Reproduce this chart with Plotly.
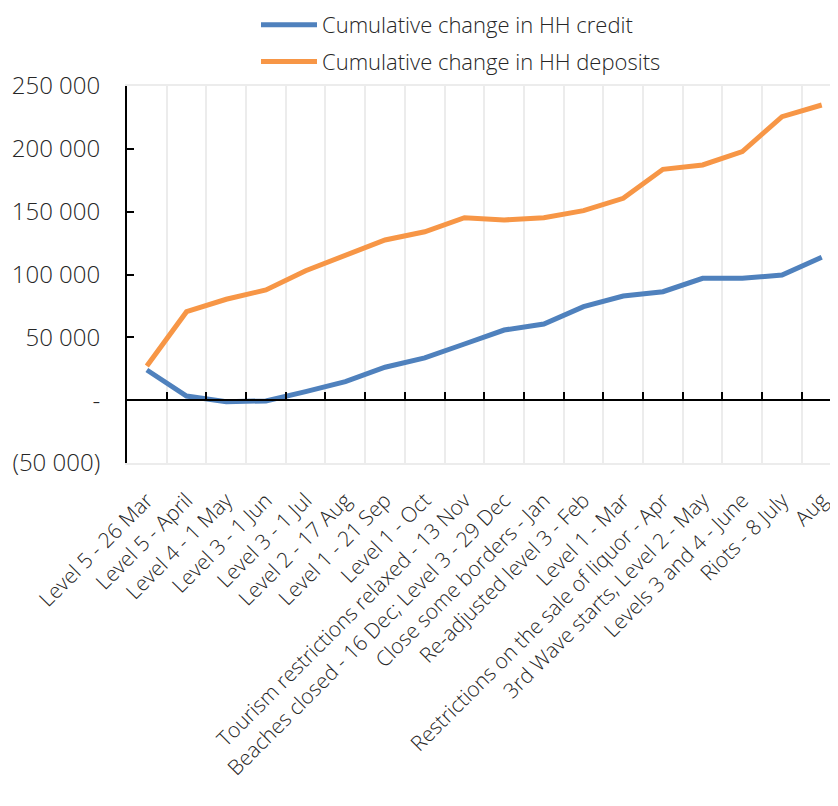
import plotly.graph_objects as go

categories = [
    "Level 5 - 26 Mar", "Level 5 - April", "Level 4 - 1 May", "Level 3 - 1 Jun",
    "Level 3 - 1 Jul", "Level 2 - 17 Aug", "Level 1 - 21 Sep", "Level 1 - Oct",
    "Tourism restrictions relaxed - 13 Nov", "Beaches closed - 16 Dec; Level 3 - 29 Dec",
    "Close some borders - Jan", "Re-adjusted level 3 - Feb", "Level 1 - Mar",
    "Restrictions on the sale of liquor - Apr", "3rd Wave starts, Level 2 - May",
    "Levels 3 and 4 - June", "Riots - 8 July", "Aug",
]
hh_credit = [24000, 3300, -1200, -600, 6800, 14700, 26200, 33600, 44700, 55800,
             60600, 74400, 82900, 86300, 97000, 97000, 99600, 113700]
hh_deposits = [27200, 70400, 80300, 87700, 103000, 115500, 127500, 134000, 145200, 143400,
               145200, 150800, 160600, 183700, 187200, 197800, 225600, 234900]
y_tickvals = [-50000, 0, 50000, 100000, 150000, 200000, 250000]
y_ticktext = ["(50 000)", "-", "50 000", "100 000", "150 000", "200 000", "250 000"]

FONT = "Open Sans"
TXT = "#262626"

fig = go.Figure()
fig.add_trace(go.Scatter(x=categories, y=hh_credit, mode="lines",
                         name="Cumulative change in HH credit",
                         line=dict(color="#4f81bd", width=5), legendgroup="a"))
fig.add_trace(go.Scatter(x=categories, y=hh_deposits, mode="lines",
                         name="Cumulative change in HH deposits",
                         line=dict(color="#f79646", width=5), legendgroup="b"))
# invisible helper trace for the zero-line axis
fig.add_trace(go.Scatter(x=categories, y=hh_credit, mode="lines", xaxis="x2",
                         line=dict(color="rgba(0,0,0,0)", width=0),
                         showlegend=False, hoverinfo="skip"))

# page has an 8px body margin, so the figure is offset by 8px
W, H = 830, 798
L, T, B = 119, 78, 343
plot_w = W - L
plot_h = H - T - B

xr = [-0.5, 17.41]
fig.update_layout(
    width=W, height=H,
    margin=dict(l=L, r=0, t=T, b=B, autoexpand=False),
    paper_bgcolor="white", plot_bgcolor="white",
    font=dict(family=FONT, size=22, color=TXT, weight=300),
    showlegend=True,
    legend=dict(x=(256 - 8 - L) / plot_w, y=1 + 82 / plot_h,
                xanchor="left", yanchor="top", orientation="v",
                traceorder="grouped", tracegroupgap=5, itemwidth=56,
                font=dict(family=FONT, size=22, color=TXT, weight=300),
                bgcolor="rgba(0,0,0,0)"),
    xaxis=dict(type="category", range=xr, tickson="boundaries",
               showgrid=True, gridcolor="#ececec", gridwidth=1.5,
               showline=True, linecolor="#ececec", linewidth=1.5, mirror=True,
               ticks="", tickangle=-45, automargin=False,
               ticklabelstandoff=15,
               tickfont=dict(family=FONT, size=21, color=TXT, weight=300)),
    xaxis2=dict(type="category", range=xr, overlaying="x", anchor="free",
                position=1/6, side="bottom", tickson="boundaries",
                showline=True, linecolor="black", linewidth=2,
                ticks="inside", ticklen=7, tickwidth=2, tickcolor="black",
                showticklabels=False, showgrid=False, zeroline=False,
                automargin=False),
    yaxis=dict(range=[-50000, 250000], tickvals=y_tickvals, ticktext=y_ticktext,
               showgrid=False, zeroline=False, automargin=False,
               showline=True, linecolor="black", linewidth=2,
               ticks="inside", ticklen=7, tickwidth=2, tickcolor="black",
               ticklabelstandoff=20,
               tickfont=dict(family=FONT, size=24, color=TXT, weight=300)),
)

fig.write_html("out.html")
